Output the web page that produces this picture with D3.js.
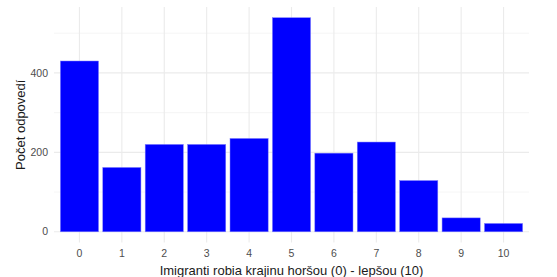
<!DOCTYPE html>
<html><head><meta charset="utf-8">
<script src="https://cdn.jsdelivr.net/npm/d3@7/dist/d3.min.js"></script>
<style>body{margin:0;background:#fff;}svg{display:block;font-family:"Liberation Sans",Arial,sans-serif;}</style>
</head><body><svg id="c" width="557" height="277"></svg>
<script>
const categories = ["0","1","2","3","4","5","6","7","8","9","10"];
const counts = [430, 162, 220, 220, 235, 539, 198, 226, 129, 35, 21];
const yTicks = [0, 200, 400];
const yMinor = [100, 300, 500];

const svg = d3.select("#c");
const left = 54, right = 529;
const maxV = d3.max(counts);
const yDom = [-0.05*maxV, maxV*1.05];
const y = d3.scaleLinear().domain(yDom).range([242.5, 7]);
const n = categories.length;
const step = (right-left)/(n - 1 + 1.2);
const xc = d3.scalePoint().domain(categories).range([left + 0.6*step, right - 0.6*step]);
const bw = step*0.9;

const g = svg.append("g");
g.selectAll(".ym").data(yMinor).join("line")
 .attr("x1", left).attr("x2", right).attr("y1", d=>y(d)).attr("y2", d=>y(d))
 .attr("stroke", "#f2f2f2").attr("stroke-width", 0.8);
g.selectAll(".yM").data(yTicks).join("line")
 .attr("x1", left).attr("x2", right).attr("y1", d=>y(d)).attr("y2", d=>y(d))
 .attr("stroke", "#ebebeb").attr("stroke-width", 1.1);
g.selectAll(".xM").data(categories).join("line")
 .attr("x1", d=>xc(d)).attr("x2", d=>xc(d)).attr("y1", y(yDom[0])).attr("y2", y(yDom[1]))
 .attr("stroke", "#ebebeb").attr("stroke-width", 1.1);

g.selectAll(".bar").data(counts).join("rect")
 .attr("x", (d,i)=>xc(categories[i]) - bw/2)
 .attr("width", bw)
 .attr("y", d=>y(d))
 .attr("height", d=>y(0)-y(d))
 .attr("fill", "#0000ff")
 .attr("stroke", "#7f7fff").attr("stroke-width", 0.5);

g.selectAll(".yl").data(yTicks).join("text")
 .attr("x", 48).attr("y", d=>y(d)).attr("dy", "0.35em")
 .attr("text-anchor", "end").attr("font-size", 10.5).attr("fill", "#4d4d4d")
 .text(d=>d);
g.selectAll(".xl").data(categories).join("text")
 .attr("x", d=>xc(d)).attr("y", 253).attr("dy", "0.35em")
 .attr("text-anchor", "middle").attr("font-size", 10.5).attr("fill", "#4d4d4d")
 .text(d=>d);
svg.append("text").attr("x", (left+right)/2).attr("y", 270).attr("dy","0.35em")
 .attr("text-anchor","middle").attr("font-size", 13).attr("fill","#1a1a1a")
 .text("Imigranti robia krajinu horšou (0) - lepšou (10)");
svg.append("text").attr("transform", `translate(20,${(y(yDom[0])+y(yDom[1]))/2}) rotate(-90)`)
 .attr("dy","0.35em").attr("text-anchor","middle").attr("font-size", 13).attr("fill","#1a1a1a")
 .text("Počet odpovedí");
</script></body></html>
